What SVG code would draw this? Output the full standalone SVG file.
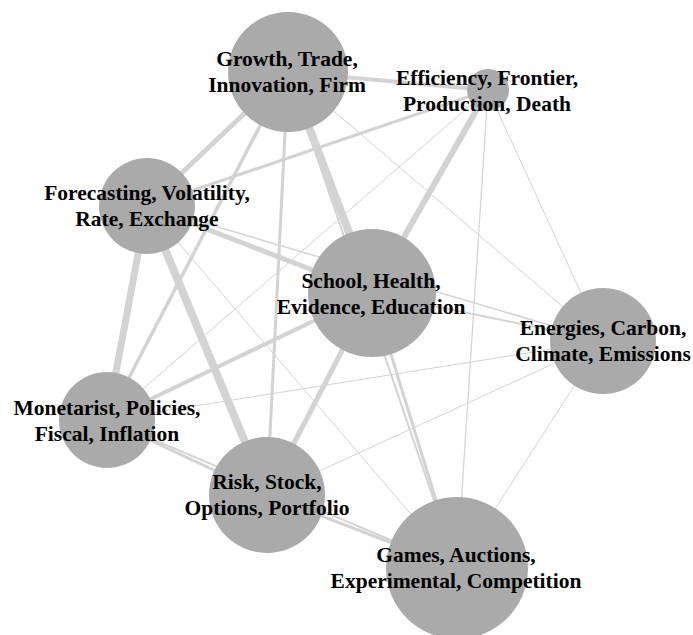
<svg xmlns="http://www.w3.org/2000/svg" width="693" height="635" viewBox="0 0 693 635">
<style>
.bg{fill:#ffffff}
.e{stroke:#d3d3d3;stroke-linecap:butt;fill:none}
.n circle{fill:#aaaaaa}
.n text{font-family:"Liberation Serif","Times New Roman",serif;font-weight:bold;font-size:21.5px;fill:#000;text-anchor:middle}
</style>
<rect class="bg" x="0" y="0" width="693" height="635"/>
<g id="edges">
<line class="e" x1="288" y1="72" x2="488" y2="90" stroke-width="4"/>
<line class="e" x1="288" y1="72" x2="147" y2="206" stroke-width="5"/>
<line class="e" x1="288" y1="72" x2="107" y2="420" stroke-width="3.5"/>
<line class="e" x1="288" y1="72" x2="267" y2="495" stroke-width="3"/>
<line class="e" x1="288" y1="72" x2="372" y2="293" stroke-width="8"/>
<line class="e" x1="288" y1="72" x2="603" y2="341" stroke-width="1"/>
<line class="e" x1="288" y1="72" x2="457" y2="568" stroke-width="2"/>
<line class="e" x1="488" y1="90" x2="147" y2="206" stroke-width="3"/>
<line class="e" x1="488" y1="90" x2="372" y2="293" stroke-width="6"/>
<line class="e" x1="488" y1="90" x2="107" y2="420" stroke-width="1"/>
<line class="e" x1="488" y1="90" x2="457" y2="568" stroke-width="1.2"/>
<line class="e" x1="488" y1="90" x2="603" y2="341" stroke-width="1"/>
<line class="e" x1="147" y1="206" x2="107" y2="420" stroke-width="7"/>
<line class="e" x1="147" y1="206" x2="267" y2="495" stroke-width="8"/>
<line class="e" x1="147" y1="206" x2="372" y2="293" stroke-width="5"/>
<line class="e" x1="147" y1="206" x2="603" y2="341" stroke-width="1.5"/>
<line class="e" x1="147" y1="206" x2="457" y2="568" stroke-width="1"/>
<line class="e" x1="372" y1="293" x2="107" y2="420" stroke-width="4"/>
<line class="e" x1="372" y1="293" x2="267" y2="495" stroke-width="5"/>
<line class="e" x1="372" y1="293" x2="603" y2="341" stroke-width="2"/>
<line class="e" x1="372" y1="293" x2="457" y2="568" stroke-width="3"/>
<line class="e" x1="107" y1="420" x2="603" y2="341" stroke-width="1"/>
<line class="e" x1="107" y1="420" x2="267" y2="495" stroke-width="3"/>
<line class="e" x1="107" y1="420" x2="457" y2="568" stroke-width="2"/>
<line class="e" x1="267" y1="495" x2="603" y2="341" stroke-width="1"/>
<line class="e" x1="267" y1="495" x2="457" y2="568" stroke-width="3"/>
<line class="e" x1="603" y1="341" x2="457" y2="568" stroke-width="1"/>
</g>
<g id="node-growth" class="n"><circle cx="288" cy="72" r="60"/><text x="287" y="66">Growth, Trade,</text><text x="287" y="92">Innovation, Firm</text></g>
<g id="node-efficiency" class="n"><circle cx="488" cy="90" r="21"/><text x="487" y="85">Efficiency, Frontier,</text><text x="487" y="111">Production, Death</text></g>
<g id="node-forecasting" class="n"><circle cx="147" cy="206" r="48"/><text x="147" y="200">Forecasting, Volatility,</text><text x="147" y="226">Rate, Exchange</text></g>
<g id="node-school" class="n"><circle cx="372" cy="293" r="64"/><text x="371" y="288">School, Health,</text><text x="371" y="314">Evidence, Education</text></g>
<g id="node-energies" class="n"><circle cx="603" cy="341" r="53"/><text x="603" y="335">Energies, Carbon,</text><text x="603" y="361">Climate, Emissions</text></g>
<g id="node-monetarist" class="n"><circle cx="107" cy="420" r="48"/><text x="107" y="415">Monetarist, Policies,</text><text x="107" y="441">Fiscal, Inflation</text></g>
<g id="node-risk" class="n"><circle cx="267" cy="495" r="58"/><text x="267" y="489">Risk, Stock,</text><text x="267" y="515">Options, Portfolio</text></g>
<g id="node-games" class="n"><circle cx="457" cy="568" r="71"/><text x="456" y="562">Games, Auctions,</text><text x="456" y="588">Experimental, Competition</text></g>
</svg>
